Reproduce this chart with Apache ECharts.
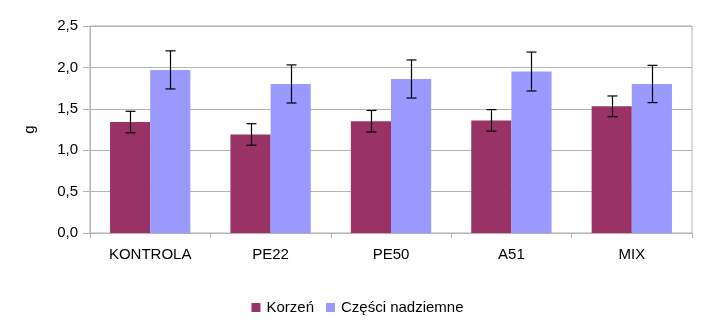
<!DOCTYPE html>
<html>
<head>
<meta charset="utf-8">
<script src="https://cdn.jsdelivr.net/npm/echarts@6/dist/echarts.min.js"></script>
<style>html,body{margin:0;padding:0;background:#fff}#c{width:715px;height:324px}</style>
</head>
<body>
<div id="c"></div>
<script>
var categories = ['KONTROLA', 'PE22', 'PE50', 'A51', 'MIX'];
var korzen = [1.34, 1.19, 1.35, 1.36, 1.53];
var korzenErr = [0.13, 0.13, 0.13, 0.13, 0.125];
var czesci = [1.97, 1.80, 1.86, 1.95, 1.80];
var czesciErr = [0.23, 0.23, 0.23, 0.235, 0.225];
var seriesNames = ['Korzeń', 'Części nadziemne'];
var yTicks = [0, 0.5, 1.0, 1.5, 2.0, 2.5];

var FONT = 'Liberation Sans';
var FS = 15;
var GAP = 0.333;

function errSeries(vals, errs, side) {
  var data = vals.map(function (v, i) { return [i, v - errs[i], v + errs[i]]; });
  return {
    type: 'custom',
    silent: true,
    z: 10,
    data: data,
    renderItem: function (params, api) {
      var band = api.size([1, 0])[0];
      var off = band * (1 - GAP) / 4 * side;
      var lo = api.coord([api.value(0), api.value(1)]);
      var hi = api.coord([api.value(0), api.value(2)]);
      var x = Math.round(lo[0] + off) + 0.5;
      var cap = 5;
      var st = { stroke: '#000', lineWidth: 1.2 };
      return {
        type: 'group',
        children: [
          { type: 'line', shape: { x1: x, y1: hi[1], x2: x, y2: lo[1] }, style: st },
          { type: 'line', shape: { x1: x - cap, y1: hi[1], x2: x + cap, y2: hi[1] }, style: st },
          { type: 'line', shape: { x1: x - cap, y1: lo[1], x2: x + cap, y2: lo[1] }, style: st }
        ]
      };
    }
  };
}

var chart = echarts.init(document.getElementById('c'));
chart.setOption({
  animation: false,
  textStyle: { fontFamily: FONT },
  grid: { left: 90, right: 23, top: 26, bottom: 91, show: true, borderColor: '#b3b3b3', borderWidth: 1 },
  legend: {
    top: 295, left: 'center',
    itemWidth: 9, itemHeight: 9, itemGap: 12,
    icon: 'rect',
    textStyle: { fontFamily: FONT, fontSize: FS, color: '#000', padding: [0, 0, 0, 1] },
    data: seriesNames
  },
  xAxis: {
    type: 'category',
    data: categories,
    axisLine: { lineStyle: { color: '#b3b3b3' } },
    axisTick: { show: true, length: 5, lineStyle: { color: '#b3b3b3' } },
    axisLabel: { color: '#000', fontSize: FS, fontFamily: FONT, margin: 14 }
  },
  yAxis: {
    type: 'value', min: 0, max: 2.5, interval: 0.5,
    name: 'g', nameLocation: 'middle', nameGap: 53, nameRotate: 90,
    nameTextStyle: { color: '#000', fontSize: FS, fontFamily: FONT },
    axisLine: { show: true, lineStyle: { color: '#b3b3b3' } },
    axisTick: { show: true, length: 7, lineStyle: { color: '#b3b3b3' } },
    splitLine: { lineStyle: { color: '#b3b3b3' } },
    axisLabel: {
      color: '#000', fontSize: FS, fontFamily: FONT, margin: 12,
      formatter: function (v) { return v.toFixed(1).replace('.', ','); }
    }
  },
  series: [
    { name: seriesNames[0], type: 'bar', data: korzen, barGap: '0%', barCategoryGap: '33.3%',
      itemStyle: { color: '#993366' } },
    { name: seriesNames[1], type: 'bar', data: czesci, barGap: '0%', barCategoryGap: '33.3%',
      itemStyle: { color: '#9999ff' } },
    errSeries(korzen, korzenErr, -1),
    errSeries(czesci, czesciErr, 1)
  ]
});
</script>
</body>
</html>
